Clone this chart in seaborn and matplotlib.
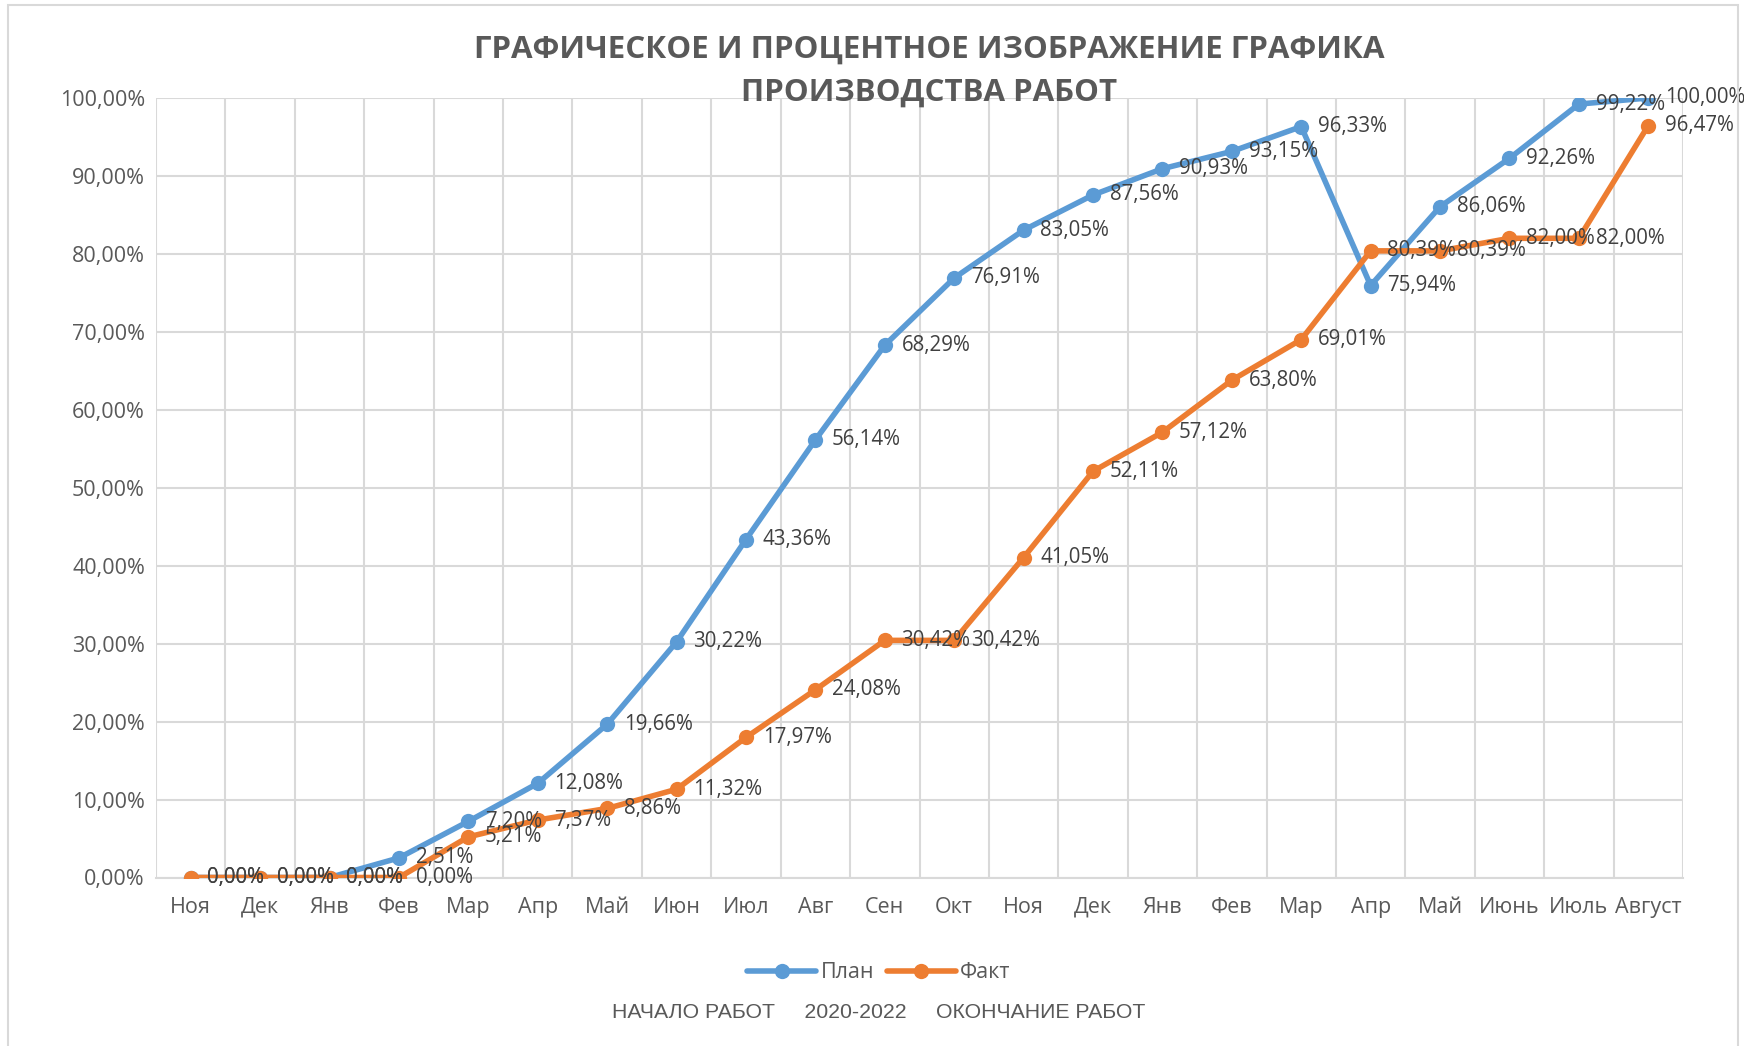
import numpy as np
import pandas as pd
import matplotlib
matplotlib.use('Agg')
import matplotlib.pyplot as plt
from matplotlib.ticker import FuncFormatter, MultipleLocator
from matplotlib.patches import Rectangle
import seaborn as sns

# Data
months = ['Ноя', 'Дек', 'Янв', 'Фев', 'Мар', 'Апр', 'Май', 'Июн', 'Июл', 'Авг', 'Сен',
          'Окт', 'Ноя', 'Дек', 'Янв', 'Фев', 'Мар', 'Апр', 'Май', 'Июнь', 'Июль', 'Август']
plan = [0.00, 0.00, 0.00, 2.51, 7.20, 12.08, 19.66, 30.22, 43.36, 56.14, 68.29,
        76.91, 83.05, 87.56, 90.93, 93.15, 96.33, 75.94, 86.06, 92.26, 99.22, 100.00]
fact = [0.00, 0.00, 0.00, 0.00, 5.21, 7.37, 8.86, 11.32, 17.97, 24.08, 30.42,
        30.42, 41.05, 52.11, 57.12, 63.80, 69.01, 80.39, 80.39, 82.00, 82.00, 96.47]
series_names = ['План', 'Факт']
colors = ['#5b9bd5', '#ed7d31']

title = 'ГРАФИЧЕСКОЕ И ПРОЦЕНТНОЕ ИЗОБРАЖЕНИЕ ГРАФИКА\nПРОИЗВОДСТВА РАБОТ'
footer = 'НАЧАЛО РАБОТ     2020-2022     ОКОНЧАНИЕ РАБОТ'

sns.set_theme(style='white')
plt.rcParams['font.family'] = ['Open Sans', 'DejaVu Sans']

pos = np.arange(len(months))
df = pd.DataFrame({'pos': np.concatenate([pos, pos]),
                   'value': plan + fact,
                   'series': [series_names[0]] * len(pos) + [series_names[1]] * len(pos)})

fig = plt.figure(figsize=(17.44, 10.46), dpi=100)
W, H = 1744, 1046
ax = fig.add_axes([156 / W, 1 - 877.5 / H, (1683 - 156) / W, (877.5 - 98) / H])

# outer chart border
fig.patches.append(Rectangle((8 / W, -0.01), (1738 - 8) / W, 1 - 5 / H + 0.01,
                             transform=fig.transFigure, fill=False,
                             edgecolor='#d9d9d9', linewidth=1.5))

sns.lineplot(data=df, x='pos', y='value', hue='series', palette=colors,
             marker='o', markersize=11, markeredgewidth=0, linewidth=4,
             ax=ax, legend=True, zorder=3)

grid_c = '#d9d9d9'
ax.set_xlim(-0.5, len(months) - 0.5)
ax.set_ylim(0, 100)
ax.yaxis.set_major_locator(MultipleLocator(10))
ax.yaxis.set_major_formatter(FuncFormatter(lambda v, p: f'{v:.2f}%'.replace('.', ',')))
ax.set_xticks(pos)
ax.set_xticklabels(months)
for b in np.arange(-0.5, len(months), 1):
    ax.axvline(b, color=grid_c, linewidth=1.5, zorder=0)
ax.grid(axis='y', color=grid_c, linewidth=1.5, zorder=0)
for s in ax.spines.values():
    s.set_visible(False)
ax.spines['bottom'].set_visible(True)
ax.spines['bottom'].set_color(grid_c)
ax.spines['bottom'].set_linewidth(1.5)
ax.tick_params(axis='both', length=0, labelsize=15.5, colors='#595959', pad=8)
ax.tick_params(axis='x', pad=14)
ax.set_xlabel('')
ax.set_ylabel('')

# data labels, to the right of each point
for vals in (plan, fact):
    for x, v in zip(pos, vals):
        ax.annotate(f'{v:.2f}%'.replace('.', ','), (x, v), xytext=(12, 0),
                    textcoords='offset points', ha='left', va='center',
                    fontsize=14.8, color='#404040', zorder=4)

fig.text(929 / W, 1 - 71 / H, title, ha='center', va='center', fontsize=22.5,
         fontweight='bold', color='#595959', linespacing=1.55)

handles, labels = ax.get_legend_handles_labels()
ax.legend(handles, labels, loc='center', bbox_to_anchor=(879 / W, 1 - 973 / H),
          bbox_transform=fig.transFigure, ncol=2, frameon=False, fontsize=15.5,
          handlelength=3.2, columnspacing=0.6, handletextpad=0.2, labelcolor='#595959')

fig.text(879 / W, 1 - 1012 / H, footer, ha='center', va='center', fontsize=15.3,
         color='#595959', family=['Liberation Sans', 'DejaVu Sans'])

fig.savefig('out.png', dpi=100)
